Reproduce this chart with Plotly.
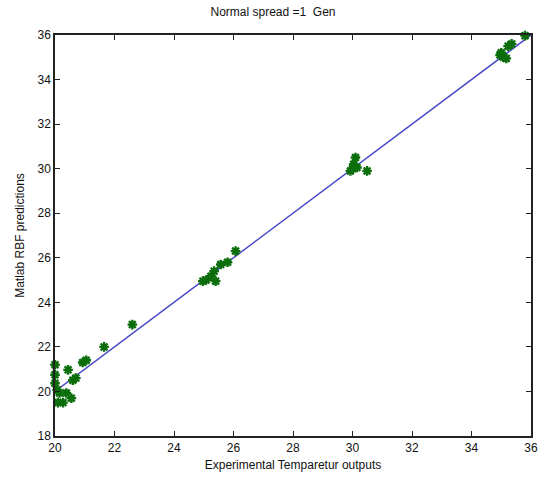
import plotly.graph_objects as go

# Experimental temperature outputs vs. RBF network predictions
experimental = [20.0, 20.0, 20.0, 20.44, 20.07, 20.15, 20.38, 20.55, 20.27, 20.1,
                20.6, 20.7, 20.93, 21.05, 21.65, 22.6,
                24.97, 25.08, 25.24, 25.4, 25.35, 25.57, 25.8, 26.07,
                29.93, 30.04, 30.1, 30.15, 30.0, 30.49,
                34.96, 35.0, 35.07, 35.17, 35.23, 35.35, 35.8]
predicted = [21.2, 20.75, 20.37, 20.97, 20.07, 19.93, 19.93, 19.7, 19.5, 19.5,
             20.5, 20.6, 21.3, 21.4, 22.0, 23.0,
             24.95, 25.0, 25.17, 24.95, 25.4, 25.7, 25.8, 26.3,
             29.9, 30.2, 30.5, 30.05, 30.0, 29.9,
             35.1, 35.2, 35.0, 34.95, 35.5, 35.6, 35.97]

# Ideal fit line y = x
fit_x = [20, 36]
fit_y = [20, 36]

x_ticks = [20, 22, 24, 26, 28, 30, 32, 34, 36]
y_ticks = [18, 20, 22, 24, 26, 28, 30, 32, 34, 36]

fig = go.Figure()
fig.add_trace(go.Scatter(x=fit_x, y=fit_y, mode="lines",
                         line=dict(color="#4a4ac8", width=1.5), showlegend=False))
fig.add_trace(go.Scatter(x=experimental, y=predicted, mode="markers", cliponaxis=False,
                         marker=dict(symbol="asterisk-open", size=8, color="#0b6e0b",
                                     line=dict(color="#0b6e0b", width=2.4)),
                         showlegend=False))

font = dict(family="Liberation Sans, Arial, sans-serif", size=12, color="#111")
axis_common = dict(showline=True, linecolor="#222", linewidth=1.5, mirror="ticks",
                   ticks="inside", ticklen=5, tickcolor="#222", showgrid=False,
                   zeroline=False, tickfont=font)

fig.update_layout(
    width=546, height=478,
    paper_bgcolor="white", plot_bgcolor="white",
    margin=dict(l=55, r=8, t=35, b=42),
    title=dict(text="Normal spread =1  Gen", x=0.5, xanchor="center",
               y=0.975, yanchor="middle", font=dict(family=font["family"], size=12, color="#111")),
    xaxis=dict(range=[20, 36], tickvals=x_ticks, **axis_common,
               title=dict(text="Experimental Temparetur outputs", font=font, standoff=6)),
    yaxis=dict(range=[18, 36], tickvals=y_ticks, **axis_common,
               title=dict(text="Matlab RBF predictions", font=font, standoff=10)),
)

fig.write_html("out.html")
